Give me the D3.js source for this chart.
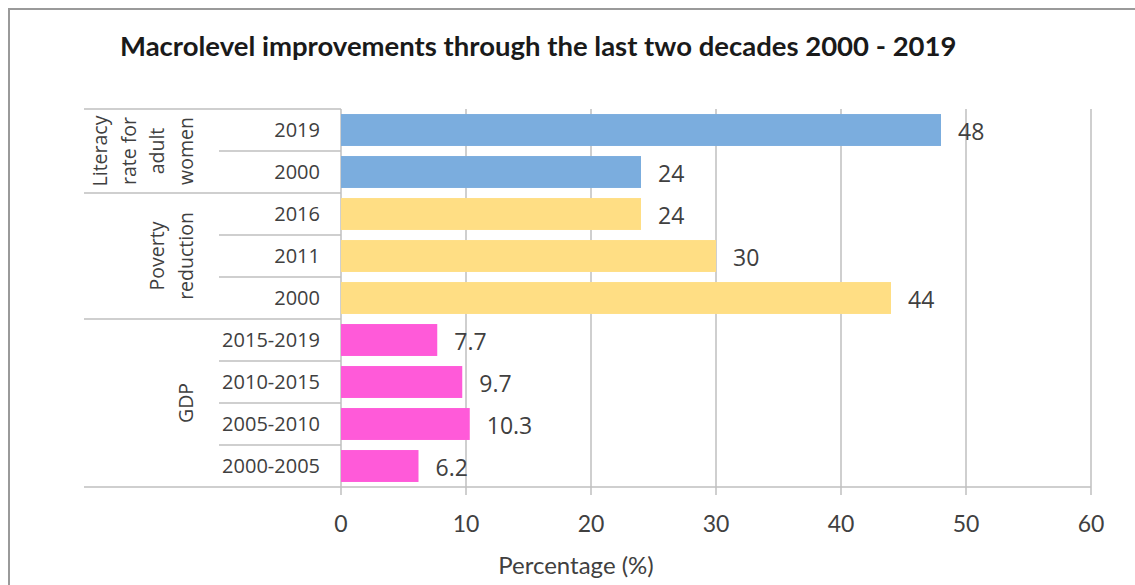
<!DOCTYPE html>
<html>
<head>
<meta charset="utf-8">
<script src="https://cdn.jsdelivr.net/npm/d3@7"></script>
<style>
  body { margin: 0; background: #fff; }
  svg { display: block; }
</style>
</head>
<body>
<div id="chart-area"></div>
<script>
// data, top row first
var groups = ["Literacy rate for adult women", "Poverty reduction", "GDP"];
var groupLines = [["Literacy", "rate for", "adult", "women"], ["Poverty", "reduction"], ["GDP"]];
var groupColors = ["#7badde", "#ffde84", "#ff5ad9"];
var categories = [
    ["2019", "2000"],
    ["2016", "2011", "2000"],
    ["2015-2019", "2010-2015", "2005-2010", "2000-2005"]
];
var values = [
    [48, 24],
    [24, 30, 44],
    [7.7, 9.7, 10.3, 6.2]
];
var xTicks = [0, 10, 20, 30, 40, 50, 60];

var rows = [];
categories.forEach(function(cats, gi) {
    cats.forEach(function(c, ci) {
        rows.push({ id: gi + "-" + ci, group: gi, cat: c, value: values[gi][ci], first: ci == 0 });
    });
});

var W = 1135, H = 585;
var margin = {left: 341, right: 1091, top: 109, bottom: 487};
var tableLeft = 84, catLeft = 219;
var lineColor = "#bfbfbf", textColor = "#404040";

var svg = d3.select("#chart-area").append("svg")
    .attr("width", W)
    .attr("height", H);

// outer frame (runs off the right / bottom edge)
svg.append("rect")
    .attr("x", 9).attr("y", 9)
    .attr("width", W + 20).attr("height", H + 20)
    .attr("fill", "none")
    .attr("stroke", "#9a9a9a")
    .attr("stroke-width", 2);

svg.append("text")
    .attr("x", 120)
    .attr("y", 56)
    .attr("font-family", "Lato, 'Open Sans', sans-serif")
    .attr("font-weight", 700)
    .attr("font-size", 27.5)
    .attr("fill", "#1a1a1a")
    .text("Macrolevel improvements through the last two decades 2000 - 2019");

var x = d3.scaleLinear().domain([0, 60]).range([margin.left, margin.right]);
var y = d3.scaleBand()
    .domain(rows.map(function(d) { return d.id; }))
    .range([margin.top, margin.bottom])
    .paddingInner(0.24)
    .paddingOuter(0.12);
var step = y.step();

// gridlines + ticks
svg.append("g").selectAll("line")
    .data(xTicks)
    .enter().append("line")
    .attr("x1", function(d) { return x(d); })
    .attr("x2", function(d) { return x(d); })
    .attr("y1", margin.top)
    .attr("y2", margin.bottom + 8)
    .attr("stroke", lineColor)
    .attr("stroke-width", 1.5);

// table lines on the left
var rowTop = function(i) { return margin.top + i * step; };
svg.append("g").selectAll("line")
    .data(d3.range(rows.length + 1))
    .enter().append("line")
    .attr("x1", function(i) { return (i == rows.length || rows[i].first) ? tableLeft : catLeft; })
    .attr("x2", margin.left)
    .attr("y1", function(i) { return rowTop(i); })
    .attr("y2", function(i) { return rowTop(i); })
    .attr("stroke", lineColor)
    .attr("stroke-width", 1.5);

// axis baseline
svg.append("line")
    .attr("x1", margin.left).attr("x2", margin.right)
    .attr("y1", margin.bottom).attr("y2", margin.bottom)
    .attr("stroke", lineColor)
    .attr("stroke-width", 1.5);

// bars
svg.append("g").selectAll("rect")
    .data(rows)
    .enter().append("rect")
    .attr("x", x(0))
    .attr("y", function(d) { return y(d.id); })
    .attr("width", function(d) { return x(d.value) - x(0); })
    .attr("height", y.bandwidth())
    .attr("fill", function(d) { return groupColors[d.group]; });

// value labels
svg.append("g").selectAll("text")
    .data(rows)
    .enter().append("text")
    .attr("x", function(d) { return x(d.value) + 17; })
    .attr("y", function(d) { return y(d.id) + y.bandwidth() / 2 + 1; })
    .attr("dominant-baseline", "central")
    .attr("font-family", "'Open Sans', sans-serif")
    .attr("font-size", 23)
    .attr("fill", textColor)
    .text(function(d) { return d.value; });

// category labels
svg.append("g").selectAll("text")
    .data(rows)
    .enter().append("text")
    .attr("x", 320)
    .attr("y", function(d) { return y(d.id) + y.bandwidth() / 2 - 1; })
    .attr("dominant-baseline", "central")
    .attr("text-anchor", "end")
    .attr("font-family", "'Open Sans', sans-serif")
    .attr("font-size", 20)
    .attr("fill", textColor)
    .text(function(d) { return d.cat; });

// group labels, rotated
var start = 0;
groups.forEach(function(g, gi) {
    var n = categories[gi].length;
    var cy = margin.top + (start + n / 2) * step;
    start += n;
    var lines = groupLines[gi];
    lines.forEach(function(l, li) {
        var cx = 185 - (lines.length - 1 - li) * 28.5;
        svg.append("text")
            .attr("transform", "translate(" + cx + "," + cy + ") rotate(-90)")
            .attr("text-anchor", "middle")
            .attr("dominant-baseline", "central")
            .attr("font-family", "'Open Sans', sans-serif")
            .attr("font-size", 19.5)
            .attr("fill", textColor)
            .text(l);
    });
});

// x tick labels
svg.append("g").selectAll("text")
    .data(xTicks)
    .enter().append("text")
    .attr("x", function(d) { return x(d); })
    .attr("y", 532)
    .attr("text-anchor", "middle")
    .attr("font-family", "Lato, sans-serif")
    .attr("font-size", 23)
    .attr("fill", textColor)
    .text(function(d) { return d; });

svg.append("text")
    .attr("x", 576)
    .attr("y", 574)
    .attr("text-anchor", "middle")
    .attr("font-family", "Lato, sans-serif")
    .attr("font-size", 24)
    .attr("fill", textColor)
    .text("Percentage (%)");
</script>
</body>
</html>
